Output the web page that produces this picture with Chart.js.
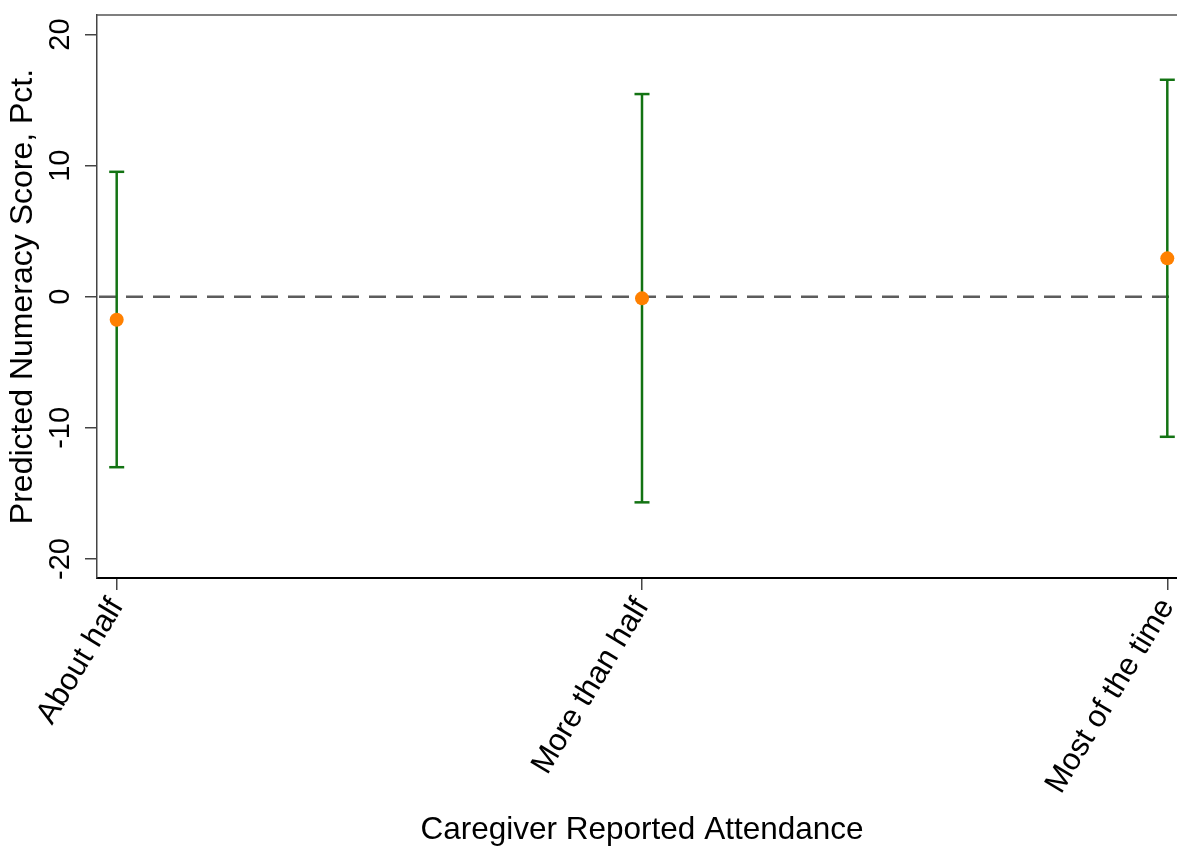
<!DOCTYPE html>
<html><head><meta charset="utf-8">
<script src="https://cdn.jsdelivr.net/npm/chart.js@4/dist/chart.umd.min.js"></script>
<style>html,body{margin:0;padding:0;background:#fff;overflow:hidden;} #wrap{width:1177px;height:848px;overflow:hidden;position:relative;} canvas{display:block;}</style>
</head><body><div id="wrap"><canvas id="c" width="1187" height="848"></canvas></div>
<script>
// ---- data ----
const categories = ["About half", "More than half", "Most of the time"];
const estimates = [-1.75, -0.12, 2.93];
const lowerCI = [-13.0, -15.68, -10.68];
const upperCI = [9.53, 15.46, 16.55];
const yTicks = [-20, -10, 0, 10, 20];
const referenceValue = 0;
const xTitle = "Caregiver Reported Attendance";
const yTitle = "Predicted Numeracy Score, Pct.";

// ---- style ----
const GREEN = '#137313';
const ORANGE = '#ff8000';
Chart.defaults.font.family = "'Liberation Sans', Arial, sans-serif";
Chart.defaults.color = '#000';

const datasets = [{
  type: 'scatter',
  label: 'estimate',
  data: estimates.map((v, i) => ({x: i, y: v})),
  pointRadius: 7,
  pointHoverRadius: 7,
  pointBackgroundColor: ORANGE,
  pointBorderWidth: 0,
  showLine: false,
  order: 0,
  clip: false
}];
categories.forEach((c, i) => {
  datasets.push({
    type: 'line',
    label: 'ci ' + c,
    data: [{x: i, y: lowerCI[i]}, {x: i, y: upperCI[i]}],
    borderColor: GREEN,
    borderWidth: 2.5,
    pointStyle: 'line',
    pointRadius: 7.5,
    pointHoverRadius: 7.5,
    pointBorderColor: GREEN,
    pointBorderWidth: 2.5,
    fill: false,
    order: 1,
    clip: false
  });
});

const refLine = {
  id: 'refLine',
  beforeDatasetsDraw(chart) {
    const {ctx, chartArea, scales} = chart;
    const y = scales.y.getPixelForValue(referenceValue);
    ctx.save();
    ctx.strokeStyle = '#5c5c5c';
    ctx.lineWidth = 2.5;
    ctx.setLineDash([17, 10]);
    ctx.beginPath();
    ctx.moveTo(chartArea.left + 2, y);
    ctx.lineTo(chartArea.right, y);
    ctx.stroke();
    ctx.restore();
  }
};
const topBorder = {
  id: 'topBorder',
  afterDraw(chart) {
    const {ctx, chartArea} = chart;
    ctx.save();
    ctx.strokeStyle = '#555';
    ctx.lineWidth = 1.5;
    ctx.beginPath();
    ctx.moveTo(chartArea.left, chartArea.top);
    ctx.lineTo(chartArea.right, chartArea.top);
    ctx.stroke();
    ctx.restore();
  }
};

new Chart(document.getElementById('c'), {
  type: 'scatter',
  data: {datasets},
  plugins: [refLine, topBorder],
  options: {
    responsive: false,
    animation: false,
    devicePixelRatio: 1,
    layout: {autoPadding: false, padding: {left: 6, right: 0, top: 15, bottom: 0}},
    plugins: {legend: {display: false}, tooltip: {enabled: false}},
    scales: {
      x: {
        type: 'linear',
        min: -0.0375,
        max: 2.0375,
        afterBuildTicks: s => { s.ticks = categories.map((_, i) => ({value: i})); },
        afterFit: s => { s.height = 270; s.paddingLeft = 0; s.paddingRight = 0; },
        ticks: {
          callback: v => categories[v],
          font: {size: 31},
          color: '#000',
          minRotation: 59,
          maxRotation: 59,
          autoSkip: false,
          padding: 2
        },
        grid: {display: true, drawOnChartArea: false, drawTicks: true, tickLength: 12, tickColor: '#444', tickWidth: 1.5, lineWidth: 1.5, color: '#444'},
        border: {display: true, color: '#000', width: 2},
        title: {display: true, text: xTitle, font: {size: 31.5, lineHeight: 1.1}, color: '#000', padding: {top: 0, bottom: 0}}
      },
      y: {
        type: 'linear',
        min: -21.45,
        max: 21.49,
        afterBuildTicks: s => { s.ticks = yTicks.map(v => ({value: v})); },
        afterFit: s => { s.width = 91; s.paddingTop = 0; s.paddingBottom = 0; },
        ticks: {
          font: {size: 29},
          color: '#000',
          minRotation: 90,
          maxRotation: 90,
          crossAlign: 'center',
          padding: 3
        },
        grid: {display: true, drawOnChartArea: false, drawTicks: true, tickLength: 12, tickColor: '#444', tickWidth: 1.5, lineWidth: 1.5, color: '#444'},
        border: {display: true, color: '#444', width: 1.5},
        title: {display: true, text: yTitle, font: {size: 32, lineHeight: 1.1}, color: '#000', padding: {top: 0, bottom: 0}}
      }
    }
  }
});
</script>
</body></html>
